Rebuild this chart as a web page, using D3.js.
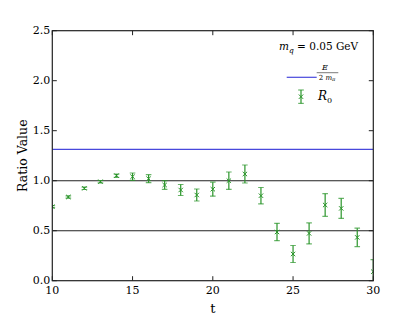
<!DOCTYPE html>
<html lang="en">
<head>
    <meta charset="UTF-8">
    <title>ratio plot</title>
    <script src="https://cdn.jsdelivr.net/npm/d3@7"></script>
    <style>
        body{ margin: 0; background: #fff; }
        svg text{ font-family: 'DejaVu Serif', serif; }
    </style>
</head>
<body>
<svg id="main" width="415" height="315"></svg>
<script>
    // ratio data
    let t_vals = [10, 11, 12, 13, 14, 15, 16, 17, 18, 19, 20, 21, 22, 23, 24, 25, 26, 27, 28, 29, 30]
    let r0_vals = [0.74, 0.837, 0.924, 0.99, 1.05, 1.04, 1.02, 0.957, 0.907, 0.857, 0.915, 1.0, 1.067, 0.85, 0.487, 0.267, 0.473, 0.757, 0.723, 0.433, 0.09]
    let r0_errs = [0.01, 0.012, 0.012, 0.012, 0.016, 0.037, 0.04, 0.043, 0.055, 0.06, 0.07, 0.087, 0.09, 0.082, 0.087, 0.085, 0.105, 0.113, 0.1, 0.092, 0.12]
    let energy_ratio = 1.314
    let ref_lines = [1.0, 0.5]
    let x_ticks = [10, 15, 20, 25, 30]
    let y_ticks = [0.0, 0.5, 1.0, 1.5, 2.0, 2.5]

    let svg = d3.select("#main")
    let pLeft = 52.3, pRight = 373.3, pTop = 30.7, pBottom = 280.7
    let x = d3.scaleLinear().domain([10, 30]).range([pLeft, pRight])
    let y = d3.scaleLinear().domain([0, 2.5]).range([pBottom, pTop])
    let green = "#2a952a"

    svg.append("clipPath").attr("id", "clip")
        .append("rect").attr("x", pLeft).attr("y", pTop)
        .attr("width", pRight - pLeft).attr("height", pBottom - pTop)

    let plot = svg.append("g").attr("clip-path", "url(#clip)")

    // reference lines
    plot.selectAll(".ref").data(ref_lines).enter().append("line")
        .attr("x1", pLeft).attr("x2", pRight)
        .attr("y1", d => y(d)).attr("y2", d => y(d))
        .attr("stroke", "#222").attr("stroke-width", 1.1)

    plot.append("line")
        .attr("x1", pLeft).attr("x2", pRight)
        .attr("y1", y(energy_ratio)).attr("y2", y(energy_ratio))
        .attr("stroke", "#4848dc").attr("stroke-width", 1.2)

    // error bars
    let pts = t_vals.map((t, i) => ({t: t, v: r0_vals[i], e: r0_errs[i]}))
    let eb = plot.selectAll(".eb").data(pts).enter().append("g")
    eb.append("line")
        .attr("x1", d => x(d.t)).attr("x2", d => x(d.t))
        .attr("y1", d => y(d.v - d.e)).attr("y2", d => y(d.v + d.e))
        .attr("stroke", green).attr("stroke-width", 1.2)
    eb.selectAll(".cap").data(d => [[d.t, d.v - d.e], [d.t, d.v + d.e]]).enter().append("line")
        .attr("x1", d => x(d[0]) - 2.8).attr("x2", d => x(d[0]) + 2.8)
        .attr("y1", d => y(d[1])).attr("y2", d => y(d[1]))
        .attr("stroke", green).attr("stroke-opacity", 0.7).attr("stroke-width", 1.2)
    // x markers
    eb.append("path")
        .attr("d", d => {
            let cx = x(d.t), cy = y(d.v), s = 2.2
            return `M${cx - s},${cy - s}L${cx + s},${cy + s}M${cx - s},${cy + s}L${cx + s},${cy - s}`
        })
        .attr("stroke", green).attr("stroke-width", 1).attr("fill", "none")

    // frame
    svg.append("rect").attr("x", pLeft).attr("y", pTop)
        .attr("width", pRight - pLeft).attr("height", pBottom - pTop)
        .attr("fill", "none").attr("stroke", "#222").attr("stroke-width", 1.2)

    // ticks inside on all sides
    let tl = 4.5
    x_ticks.forEach(v => {
        svg.append("line").attr("x1", x(v)).attr("x2", x(v)).attr("y1", pBottom).attr("y2", pBottom - tl).attr("stroke", "#222")
        svg.append("line").attr("x1", x(v)).attr("x2", x(v)).attr("y1", pTop).attr("y2", pTop + tl).attr("stroke", "#222")
        svg.append("text").attr("x", x(v)).attr("y", pBottom + 13).attr("text-anchor", "middle")
            .attr("font-size", 11).text(v)
    })
    y_ticks.forEach(v => {
        svg.append("line").attr("y1", y(v)).attr("y2", y(v)).attr("x1", pLeft).attr("x2", pLeft + tl).attr("stroke", "#222")
        svg.append("line").attr("y1", y(v)).attr("y2", y(v)).attr("x1", pRight).attr("x2", pRight - tl).attr("stroke", "#222")
        svg.append("text").attr("x", pLeft - 2).attr("y", y(v) + 3).attr("text-anchor", "end")
            .attr("font-size", 11).text(v.toFixed(1))
    })

    // axis labels
    svg.append("text").attr("x", x(20)).attr("y", 313).attr("text-anchor", "middle")
        .attr("font-size", 13).text("t")
    svg.append("text").attr("transform", `translate(27,${y(1.25)}) rotate(-90)`)
        .attr("text-anchor", "middle").attr("font-size", 12.5).text("Ratio Value")

    // legend
    let title = svg.append("text").attr("x", 279).attr("y", 50).attr("font-size", 10.5)
    title.append("tspan").attr("font-style", "italic").text("m")
    title.append("tspan").attr("font-style", "italic").attr("font-size", 7.5).attr("dy", 2.5).text("q")
    title.append("tspan").attr("dy", -2.5).text(" = 0.05 GeV")

    svg.append("line").attr("x1", 286.7).attr("x2", 316.7).attr("y1", 77.3).attr("y2", 77.3)
        .attr("stroke", "#4848dc").attr("stroke-width", 1.2)
    svg.append("text").attr("x", 325).attr("y", 70).attr("text-anchor", "middle")
        .attr("font-size", 8).attr("font-style", "italic").text("E")
    svg.append("line").attr("x1", 316.7).attr("x2", 338.3).attr("y1", 72.7).attr("y2", 72.7)
        .attr("stroke", "#222").attr("stroke-width", 0.6)
    let den = svg.append("text").attr("x", 327).attr("y", 79.5).attr("text-anchor", "middle")
        .attr("font-size", 7)
    den.append("tspan").text("2 ")
    den.append("tspan").attr("font-style", "italic").text("m")
    den.append("tspan").attr("font-style", "italic").attr("font-size", 5).attr("dy", 1.5).text("π")

    let lx = 301, ly = 96.7
    svg.append("line").attr("x1", lx).attr("x2", lx).attr("y1", ly - 6.7).attr("y2", ly + 6.7)
        .attr("stroke", green).attr("stroke-width", 1.2)
    ;[ly - 6.7, ly + 6.7].forEach(cy => {
        svg.append("line").attr("x1", lx - 2.8).attr("x2", lx + 2.8).attr("y1", cy).attr("y2", cy)
            .attr("stroke", green).attr("stroke-opacity", 0.7).attr("stroke-width", 1.2)
    })
    svg.append("path")
        .attr("d", `M${lx - 2.2},${ly - 2.2}L${lx + 2.2},${ly + 2.2}M${lx - 2.2},${ly + 2.2}L${lx + 2.2},${ly - 2.2}`)
        .attr("stroke", green).attr("fill", "none")
    let r0 = svg.append("text").attr("x", 318).attr("y", 100).attr("font-size", 12)
    r0.append("tspan").attr("font-style", "italic").text("R")
    r0.append("tspan").attr("font-size", 8).attr("dy", 2.5).text("0")
</script>
</body>
</html>
